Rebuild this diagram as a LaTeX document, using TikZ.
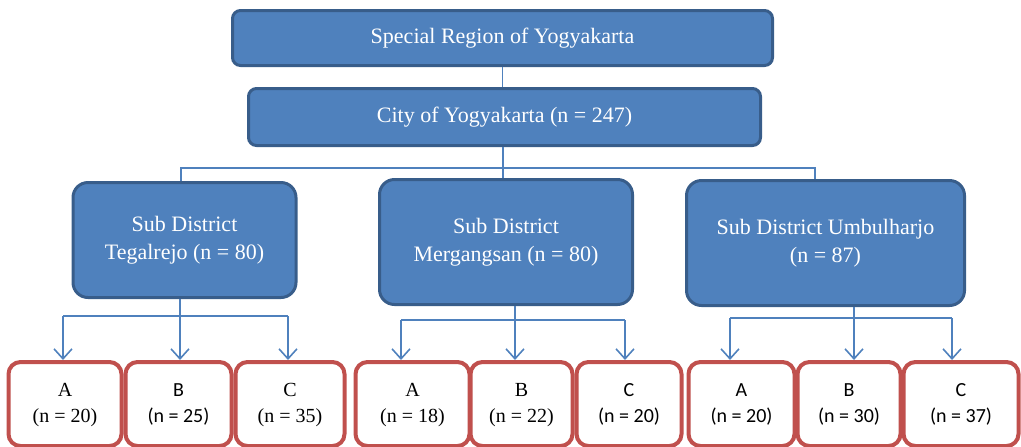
\documentclass[tikz,border=0pt]{standalone}
\usepackage{fontspec}
\setmainfont{Liberation Serif}
\newfontfamily\calibri{Carlito}
\usetikzlibrary{arrows.meta}
\definecolor{boxblue}{HTML}{4F81BD}
\definecolor{boxedge}{HTML}{385D8A}
\definecolor{boxred}{HTML}{C0504D}
% two centred lines, set a little low in the box
\newcommand{\twolines}[2]{\raisebox{-3.5pt}{\begin{tabular}{@{}c@{}}#1\\#2\end{tabular}}}

\begin{document}
\begin{tikzpicture}[x=0.5pt,y=-0.5pt,
  region/.style={draw=boxedge, fill=boxblue, line width=1.5pt, rounded corners=4pt, text=white, inner sep=0pt, font=\fontsize{11}{14}\selectfont},
  district/.style={region, rounded corners=7.5pt},
  village/.style={draw=boxred, fill=white, line width=2pt, rounded corners=6pt, minimum height=42pt, inner sep=0pt, font=\fontsize{10}{13}\selectfont},
  villagesans/.style={village, font=\calibri\fontsize{10}{13}\selectfont},
  link/.style={draw=boxblue, line width=0.8pt},
  feed/.style={link, -{Straight Barb[length=5pt,width=9pt]}}]
\useasboundingbox (0,0) rectangle (1021,446);

% Region and city
\node[region, minimum width=270pt, minimum height=27.5pt] (yogya) at (502.5,38) {\raisebox{-1pt}{Special Region of Yogyakarta}};
\node[region, minimum width=256pt, minimum height=28.5pt] (city) at (504.5,117) {\raisebox{-1pt}{City of Yogyakarta (n = 247)}};

% Sub districts
\node[district, minimum width=111.5pt, minimum height=57.5pt] (tegal) at (184.5,240) {\twolines{Sub District}{Tegalrejo (n = 80)}};
\node[district, minimum width=126.5pt, minimum height=62.5pt] (merg) at (506,242) {\twolines{Sub District}{Mergangsan (n = 80)}};
\node[district, minimum width=139pt, minimum height=62.5pt] (umbul) at (825.5,243) {\twolines{Sub District Umbulharjo}{(n = 87)}};

% Villages
\node[village, minimum width=56.5pt] (tegalA) at (65,404) {\twolines{A}{(n = 20)}};
\node[villagesans, minimum width=53pt] (tegalB) at (178.5,404) {\twolines{B}{(n = 25)}};
\node[village, minimum width=54.5pt] (tegalC) at (290,404) {\twolines{C}{(n = 35)}};
\node[village, minimum width=57pt] (mergA) at (412.5,404) {\twolines{A}{(n = 18)}};
\node[village, minimum width=51pt] (mergB) at (521.5,404) {\twolines{B}{(n = 22)}};
\node[villagesans, minimum width=52.5pt] (mergC) at (629,404) {\twolines{C}{(n = 20)}};
\node[villagesans, minimum width=53pt] (umbulA) at (741.5,404) {\twolines{A}{(n = 20)}};
\node[villagesans, minimum width=51.5pt] (umbulB) at (849,404) {\twolines{B}{(n = 30)}};
\node[villagesans, minimum width=57.5pt] (umbulC) at (961,404) {\twolines{C}{(n = 37)}};

% Top links
\draw[link] (yogya.south) -- (yogya.south |- city.north);
\coordinate (cstem) at (503,168);
\coordinate (cleft) at (181,168);
\coordinate (cright) at (815,168);
\draw[link] (city.south -| cstem) -- (cstem) -- (merg.north -| cstem);
\draw[link] (tegal.north -| cleft) -- (cleft) -- (cright) -- (umbul.north -| cright);

% Tegalrejo branches
\coordinate (tstem) at (180,316);
\coordinate (tleft) at (63,316);
\coordinate (tright) at (288,316);
\draw[link] (tegal.south -| tstem) -- (tstem);
\draw[link] (tleft) -- (tright);
\draw[feed] (tleft) -- (tegalA.north -| tleft);
\draw[feed] (tstem) -- (tegalB.north -| tstem);
\draw[feed] (tright) -- (tegalC.north -| tright);

% Mergangsan branches
\coordinate (mstem) at (515,320);
\coordinate (mleft) at (401,320);
\coordinate (mright) at (625,320);
\draw[link] (merg.south -| mstem) -- (mstem);
\draw[link] (mleft) -- (mright);
\draw[feed] (mleft) -- (mergA.north -| mleft);
\draw[feed] (mstem) -- (mergB.north -| mstem);
\draw[feed] (mright) -- (mergC.north -| mright);

% Umbulharjo branches
\coordinate (ustem) at (854,318);
\coordinate (uleft) at (730,318);
\coordinate (uright) at (952,318);
\draw[link] (umbul.south -| ustem) -- (ustem);
\draw[link] (uleft) -- (uright);
\draw[feed] (uleft) -- (umbulA.north -| uleft);
\draw[feed] (ustem) -- (umbulB.north -| ustem);
\draw[feed] (uright) -- (umbulC.north -| uright);
\end{tikzpicture}
\end{document}
